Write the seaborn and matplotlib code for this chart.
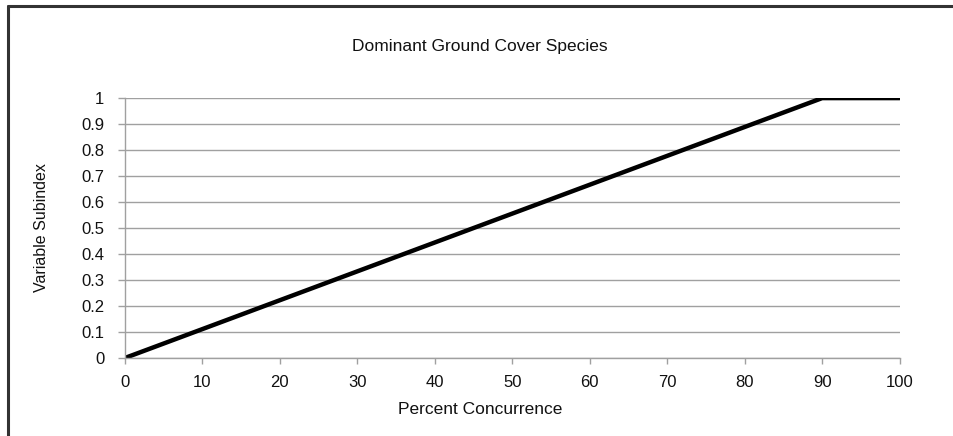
"""Dominant ground cover species subindex curve."""

import matplotlib.pyplot as plt
import pandas as pd
import seaborn as sns
from matplotlib.lines import Line2D

# Variable subindex against percent concurrence
percent_concurrence = [0, 90, 100]
subindex = [0, 1, 1]
x_ticks = list(range(0, 101, 10))
y_ticks = [round(v * 0.1, 1) for v in range(11)]
y_tick_labels = ["0"] + [f"{v:.1f}" for v in y_ticks[1:-1]] + ["1"]

data = pd.DataFrame({"Percent Concurrence": percent_concurrence,
                     "Variable Subindex": subindex})

sns.set_theme(style="white")
plt.rcParams["font.family"] = ["Liberation Sans", "DejaVu Sans"]

fig = plt.figure(figsize=(9.54, 4.36), dpi=100)
ax = fig.add_axes([0.131, 0.179, 0.812, 0.596])

sns.lineplot(data=data, x="Percent Concurrence", y="Variable Subindex",
             color="black", linewidth=3.2, ax=ax, solid_capstyle="round")

ax.set_xlim(0, 100)
ax.set_ylim(0, 1)
ax.set_xticks(x_ticks)
ax.set_yticks(y_ticks)
ax.set_yticklabels(y_tick_labels)
ax.yaxis.grid(True, color="#a0a0a0", linewidth=1)
ax.xaxis.grid(False)

for side in ["top", "right"]:
    ax.spines[side].set_visible(False)
for side in ["left", "bottom"]:
    ax.spines[side].set_color("#a0a0a0")
    ax.spines[side].set_linewidth(1)

ax.tick_params(axis="y", direction="out", length=5, width=1,
               color="#a0a0a0", pad=10, labelsize=12, labelcolor="#111111",
               left=True)
ax.tick_params(axis="x", direction="out", length=4, width=1,
               color="#a0a0a0", pad=8, labelsize=12, labelcolor="#111111",
               bottom=True)

ax.set_xlabel("Percent Concurrence", fontsize=12.5, color="#111111")
ax.set_ylabel("Variable Subindex", fontsize=11.5, color="#111111")
ax.xaxis.set_label_coords(0.458, -0.17)
ax.yaxis.set_label_coords(-0.098, 0.5)

fig.text(0.503, 0.894, "Dominant Ground Cover Species", ha="center",
         va="center", fontsize=12.5, color="#111111")

# partial frame around the figure, as in the original export
fig.add_artist(Line2D([8 / 954, 1], [1 - 6 / 436, 1 - 6 / 436],
                      color="#333333", linewidth=2.2))
fig.add_artist(Line2D([8 / 954, 8 / 954], [0, 1 - 6 / 436],
                      color="#333333", linewidth=2.2))

fig.savefig("out.png", dpi=100)
